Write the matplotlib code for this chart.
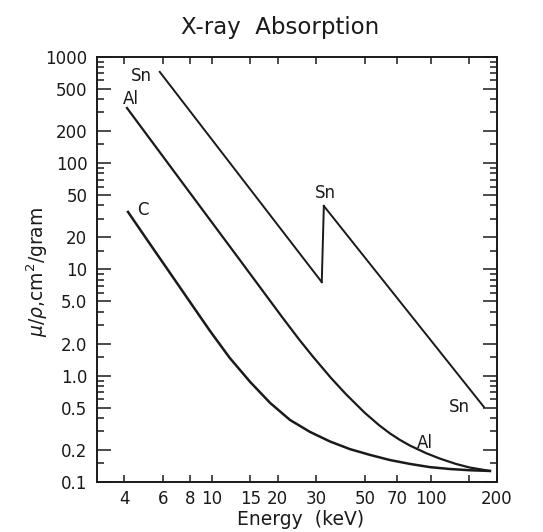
import matplotlib
matplotlib.use('Agg')
import matplotlib.pyplot as plt
from matplotlib.ticker import FixedLocator, NullFormatter

# 数据 (读自原图, 单位 keV, cm^2/g)
sn_low_e = [5.8, 31.8]
sn_low_mu = [723, 7.6]
sn_high_e = [32.5, 174.6]
sn_high_mu = [39.6, 0.508]

al_e = [4.11, 7.2, 13, 21, 25, 29, 35, 41, 50, 58, 65, 72, 80, 95, 110, 130, 150, 186]
al_mu = [331, 69.6, 13.5, 3.55, 2.21, 1.51, 0.955, 0.67, 0.447, 0.343, 0.287, 0.25,
         0.221, 0.187, 0.166, 0.148, 0.137, 0.127]

c_e = [4.155, 5.23, 6.46, 7.97, 9.83, 12.1, 15.0, 18.5, 22.8, 28.1, 34.6, 42.7, 52.7,
       65.0, 80.2, 99.0, 122, 150.6, 186]
c_mu = [34.8, 17.4, 9.27, 4.94, 2.64, 1.47, 0.873, 0.554, 0.383, 0.296, 0.241, 0.204,
        0.180, 0.161, 0.148, 0.138, 0.1325, 0.129, 0.127]

xticks = [4, 6, 8, 10, 15, 20, 30, 50, 70, 100, 150, 200]
xticklabels = ['4', '6', '8', '10', '15', '20', '30', '50', '70', '100', '', '200']
yticks = [0.1, 0.2, 0.5, 1, 2, 5, 10, 20, 50, 100, 200, 500, 1000]
yticklabels = ['0.1', '0.2', '0.5', '1.0', '2.0', '5.0', '10', '20', '50', '100',
               '200', '500', '1000']
yminor = [m * d for d in [0.1, 1, 10, 100] for m in [1.5, 3, 4, 6, 7, 8, 9]]

plt.rcParams['font.family'] = ['DejaVu Sans']
plt.rcParams['mathtext.fontset'] = 'dejavusans'

fig = plt.figure(figsize=(5.43, 5.32), dpi=100)
ax = fig.add_axes([0.1786, 0.094, 0.7364, 0.799])

col = '#1a1a1a'
ax.plot(sn_low_e, sn_low_mu, color=col, lw=1.4)
ax.plot([sn_low_e[-1], sn_high_e[0]], [sn_low_mu[-1], sn_high_mu[0]], color=col, lw=1.4)
ax.plot(sn_high_e, sn_high_mu, color=col, lw=1.4)
ax.plot(al_e, al_mu, color=col, lw=1.6)
ax.plot(c_e, c_mu, color=col, lw=1.8)

ax.set_xscale('log')
ax.set_yscale('log')
ax.set_xlim(3, 200)
ax.set_ylim(0.1, 1000)

ax.xaxis.set_major_locator(FixedLocator(xticks))
ax.set_xticklabels(xticklabels)
ax.xaxis.set_minor_locator(FixedLocator([]))
ax.yaxis.set_major_locator(FixedLocator(yticks))
ax.set_yticklabels(yticklabels)
ax.yaxis.set_minor_locator(FixedLocator(yminor))
ax.yaxis.set_minor_formatter(NullFormatter())

ax.tick_params(which='both', direction='in', top=True, right=True, colors=col,
               labelsize=12, width=1.1)
ax.tick_params(axis='y', which='major', length=10, pad=7)
ax.tick_params(axis='y', which='minor', length=5)
ax.tick_params(axis='x', which='major', length=5, pad=6)
for s in ax.spines.values():
    s.set_linewidth(1.4)
    s.set_color(col)

# 曲线标注
fs = 12
ax.text(4.76, 662, 'Sn', fontsize=fs, ha='center', va='center', color=col)
ax.text(4.29, 403, 'Al', fontsize=fs, ha='center', va='center', color=col)
ax.text(4.85, 36.3, 'C', fontsize=fs, ha='center', va='center', color=col)
ax.text(32.9, 52.5, 'Sn', fontsize=fs, ha='center', va='center', color=col)
ax.text(135.5, 0.508, 'Sn', fontsize=fs, ha='center', va='center', color=col)
ax.text(94, 0.233, 'Al', fontsize=fs, ha='center', va='center', color=col)

fig.text(0.516, 0.949, 'X-ray  Absorption', fontsize=16.5, ha='center', va='center',
         color=col)
ax.set_xlabel('Energy  (keV)', fontsize=13.5, color=col, va='center')
ax.xaxis.set_label_coords(0.51, -0.089)
ax.set_ylabel(r'$\mu/\rho$,cm$^2$/gram', fontsize=13.5, color=col, va='center')
ax.yaxis.set_label_coords(-0.15, 0.494)

fig.savefig('out.png', dpi=100)
